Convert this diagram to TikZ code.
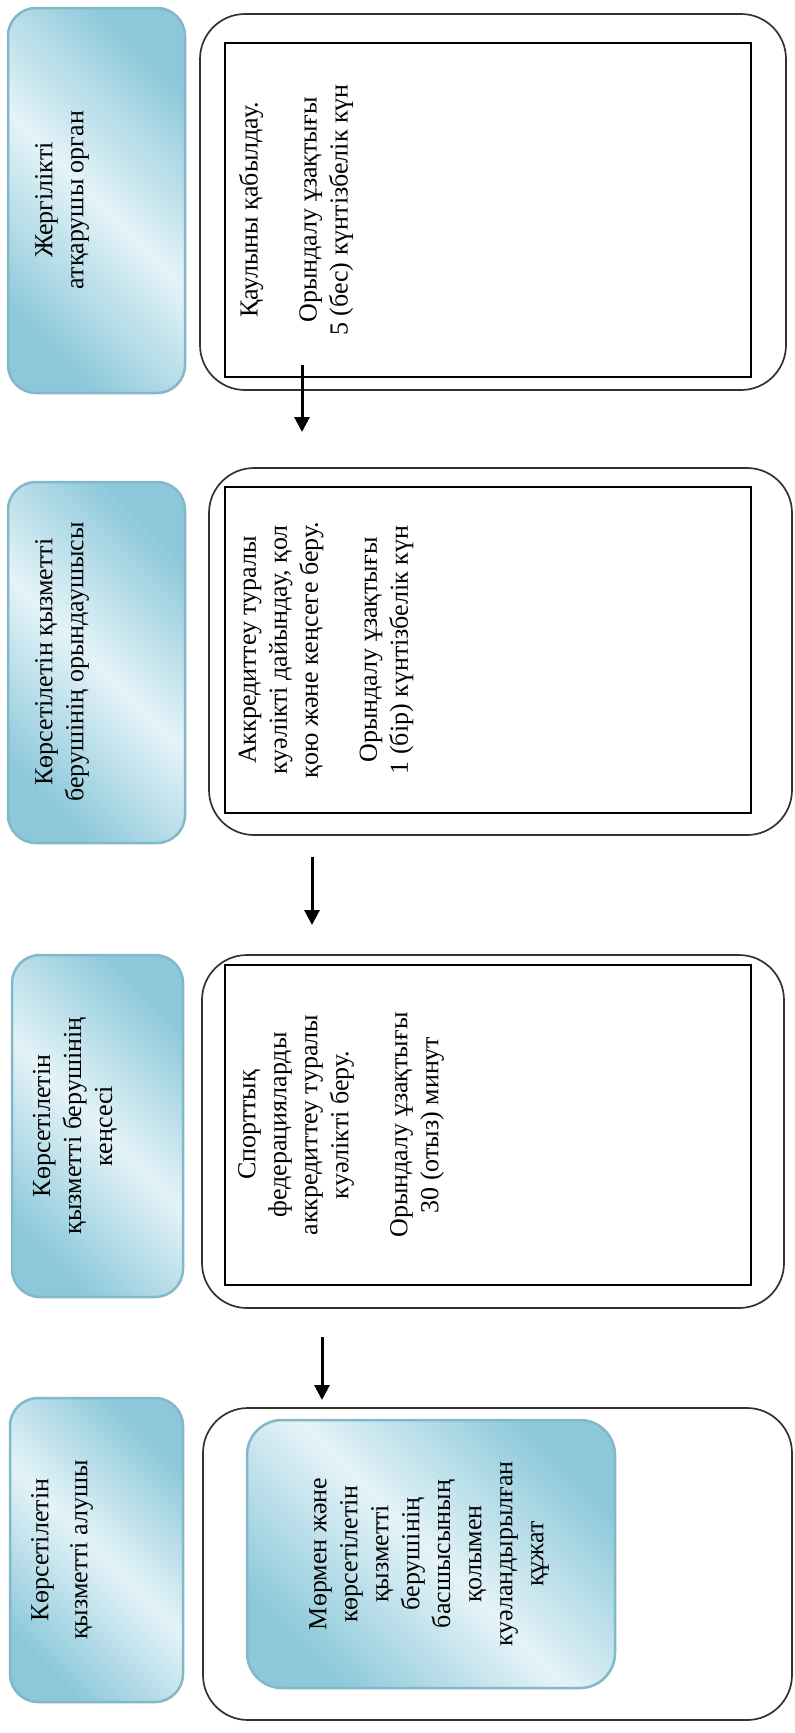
\documentclass[tikz,border=0pt]{standalone}
\usepackage{fontspec}
\setmainfont{Liberation Serif}
\usetikzlibrary{arrows.meta}
\definecolor{bdark}{RGB}{140,200,218}
\definecolor{blight}{RGB}{228,243,248}
\definecolor{bedge}{RGB}{130,184,200}
\definecolor{framegray}{RGB}{50,50,50}
\begin{document}
\begin{tikzpicture}[x=1pt,y=-1pt,
  bluebox/.style={rectangle, draw=bedge, line width=2.5pt, rounded corners=28pt,
    left color=bdark, right color=bdark, middle color=blight, shading angle=135,
    inner sep=0pt},
  outerbox/.style={rectangle, draw=framegray, line width=1.7pt, rounded corners=45pt, inner sep=0pt},
  innerbox/.style={rectangle, draw=black, line width=1.5pt, inner sep=0pt},
  txt/.style={rotate=90, align=center, inner sep=0pt, font=\fontsize{26}{31}\selectfont},
  flow/.style={line width=3pt, -{Triangle[length=15pt,width=15pt]}}
]
\fill[white] (0,0) rectangle (795,1733);
\useasboundingbox (0,0) rectangle (795,1733);

% left labels
\node[bluebox, minimum width=177pt, minimum height=385pt] (b1) at (96.5,200.5) {};
\node[bluebox, minimum width=177pt, minimum height=361pt] (b2) at (96.5,662.5) {};
\node[bluebox, minimum width=171pt, minimum height=342pt] (b3) at (97.5,1126) {};
\node[bluebox, minimum width=173pt, minimum height=304pt] (b4) at (96.5,1550) {};

\node[txt] (t1) at (62,200) {Жергілікті\\атқарушы орган};
\node[txt] (t2) at (62,662) {Көрсетілетін қызметті\\берушінің орындаушысы};
\node[txt] (t3) at (75,1126) {Көрсетілетін\\қызметті берушінің\\кеңсесі};
\node[txt] (t4) at (62,1550) {Көрсетілетін\\[8pt]қызметті алушы};

% outer frames
\node[outerbox, minimum width=586pt, minimum height=376pt] (o1) at (493,202) {};
\node[outerbox, minimum width=583pt, minimum height=367pt] (o2) at (500.5,651.5) {};
\node[outerbox, minimum width=582pt, minimum height=353pt] (o3) at (493,1131.5) {};
\node[outerbox, minimum width=589pt, minimum height=312pt] (o4) at (497.5,1564) {};

% inner boxes
\node[innerbox, minimum width=526pt, minimum height=334pt] (i1) at (488,210) {};
\node[innerbox, minimum width=526pt, minimum height=326pt] (i2) at (488,650) {};
\node[innerbox, minimum width=526pt, minimum height=320pt] (i3) at (488,1125) {};
\node[bluebox, rounded corners=35pt, minimum width=368pt, minimum height=268pt] (i4) at (431,1554) {};

% inner texts
\node[txt] (p1) at (296,210) {Қаулыны қабылдау.\\[28pt]Орындалу ұзақтығы\\5 (бес) күнтізбелік күн};
\node[txt] (p2) at (326,650) {Аккредиттеу туралы\\куәлікті дайындау, қол\\қою және кеңсеге беру.\\[28pt]Орындалу ұзақтығы\\1 (бір) күнтізбелік күн};
\node[txt] (p3) at (341,1125) {Спорттық\\федерацияларды\\аккредиттеу туралы\\куәлікті беру.\\[28pt]Орындалу ұзақтығы\\30 (отыз) минут};
\node[txt] (p4) at (429,1554) {Мөрмен және\\көрсетілетін\\қызметті\\берушінің\\басшысының\\қолымен\\куәландырылған\\құжат};

% arrows
\coordinate (a1s) at (302,365);
\coordinate (a1e) at (302,432);
\coordinate (a2s) at (312,857);
\coordinate (a2e) at (312,925);
\coordinate (a3s) at (322,1337);
\coordinate (a3e) at (322,1400);
\draw[flow] (a1s) -- (a1e);
\draw[flow] (a2s) -- (a2e);
\draw[flow] (a3s) -- (a3e);
\end{tikzpicture}
\end{document}
